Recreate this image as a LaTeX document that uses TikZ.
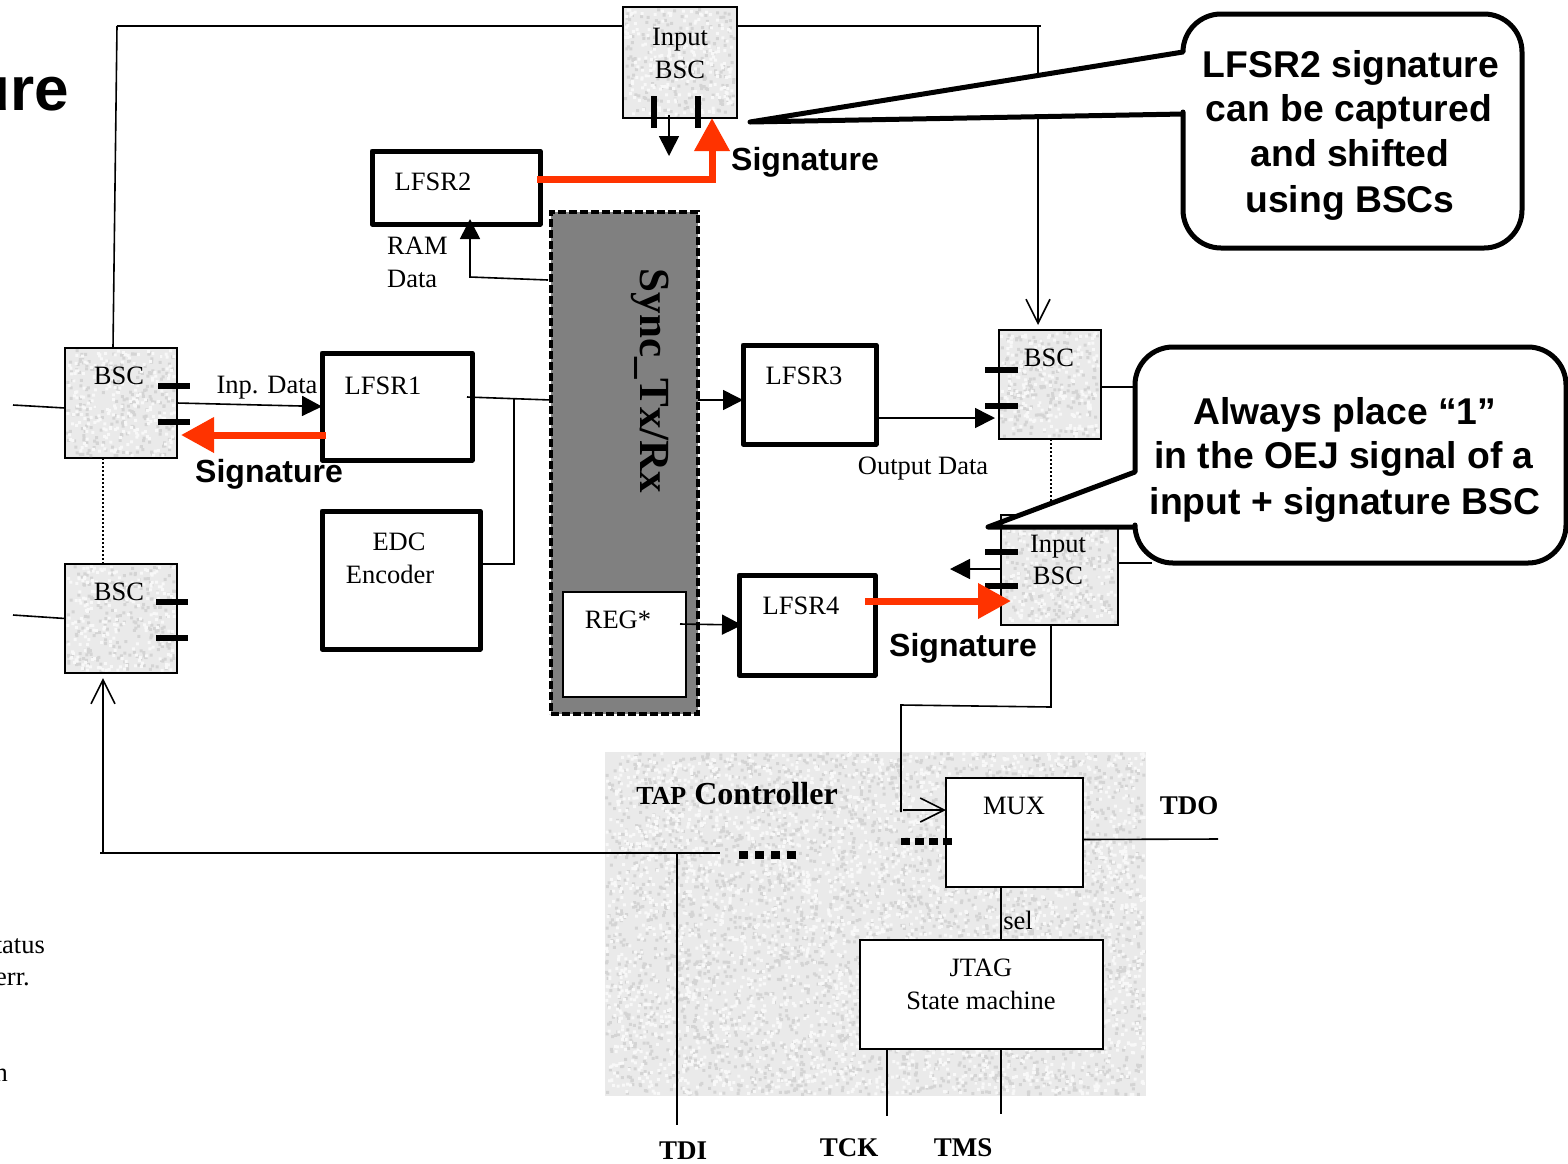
\documentclass[tikz,border=0pt]{standalone}
\usepackage{fontspec}
\setmainfont{Liberation Serif}
\setsansfont{Liberation Sans}
\usetikzlibrary{arrows.meta}
\definecolor{sigred}{HTML}{FF3300}
\definecolor{syncgray}{HTML}{808080}
\definecolor{bscgray}{HTML}{EAEAEA}
\definecolor{speckdark}{HTML}{D4D4D4}
\definecolor{specklight}{HTML}{F8F8F8}
\newcommand{\fs}[1]{\fontsize{#1}{#1}\selectfont}
% Grainy fill: left, top, width, height, grains
\newcommand{\speckle}[5]{
    \fill[speckdark] \foreach \i in {1,...,#5} {({#1+rnd*(#3-3)},{#2+rnd*(#4-3)}) rectangle ++(3,3)};
    \fill[specklight] \foreach \i in {1,...,#5} {({#1+rnd*(#3-3)},{#2+rnd*(#4-3)}) rectangle ++(3,3)};
}
\tikzset{
    box/.style={draw, inner sep=0, outer sep=0},
    bscbox/.style={box, fill=bscgray, line width=1.1pt},
    block/.style={box, fill=white, line width=5pt, line join=round},
    thinblock/.style={box, fill=white, line width=1.4pt},
    txt/.style={inner sep=0, font=\fs{26.5}},
    sigtxt/.style={inner sep=0, font=\fs{32}\sffamily\bfseries},
    bigtxt/.style={inner sep=0, align=center, font=\fs{37.3}\sffamily\bfseries},
    pin/.style={inner sep=0, font=\fs{27}\bfseries},
    wire/.style={line width=1.6pt},
    topwire/.style={line width=2.4pt},
    dotline/.style={line width=1.2pt, dash pattern=on 1.5pt off 2.5pt},
    bar/.style={line width=6pt},
    sigarrow/.style={line width=7pt, draw=sigred, -{Triangle[length=33pt,width=34pt,fill=sigred]}},
    openarrow/.style={wire, -{Straight Barb[length=24pt,width=24pt]}},
    callout/.style={draw, fill=white, line width=5pt, line join=round}
}
\begin{document}
\begin{tikzpicture}[x=1pt, y=-1pt, >={Triangle[length=20pt,width=20pt]}]
    \useasboundingbox (0,0) rectangle (1568,1163);
    \pgfmathsetseed{7}

    % Grainy blocks
    \node[box, draw=none, fill=bscgray, minimum width=541pt, minimum height=344pt] (tap) at (875.5,924) {};
    \node[bscbox, minimum width=114pt, minimum height=111pt] (inbsca) at (680,62.5) {};
    \node[bscbox, minimum width=112pt, minimum height=110pt] (bsca) at (121,403) {};
    \node[bscbox, minimum width=112pt, minimum height=109pt] (bscb) at (121,618.5) {};
    \node[bscbox, minimum width=102pt, minimum height=109pt] (bscc) at (1050,384.5) {};
    \node[bscbox, minimum width=117pt, minimum height=110pt] (inbscb) at (1059.5,570) {};
    \speckle{605}{752}{541}{344}{3500}
    \speckle{624}{8}{112}{109}{220}
    \speckle{66}{349}{110}{108}{220}
    \speckle{66}{565}{110}{107}{220}
    \speckle{1000}{331}{100}{107}{200}
    \speckle{1002}{516}{115}{108}{220}

    % Blocks
    \node[block, minimum width=168pt, minimum height=73pt] (lfsrb) at (456,187.5) {};
    \node[block, minimum width=150pt, minimum height=107pt] (lfsra) at (397,406.5) {};
    \node[block, minimum width=158pt, minimum height=138pt] (edc) at (401,580) {};
    \node[block, minimum width=133pt, minimum height=99pt] (lfsrc) at (809.5,394.5) {};
    \node[block, minimum width=136pt, minimum height=100pt] (lfsrd) at (807,625) {};
    \node[box, fill=syncgray, dash pattern=on 8pt off 3pt, line width=3.2pt, minimum width=147pt, minimum height=502pt] (sync) at (624.5,463) {};
    \node[thinblock, minimum width=123pt, minimum height=105pt] (reg) at (624.5,644.5) {};
    \node[thinblock, minimum width=137pt, minimum height=109pt] (mux) at (1014.5,832.5) {};
    \node[thinblock, minimum width=243pt, minimum height=109pt] (jtag) at (981.5,994.5) {};

    % Free ends
    \coordinate (topl) at (117,26);
    \coordinate (topr) at (1041,26);
    \coordinate (topdown) at (1038,26);
    \coordinate (stuba) at (13,405);
    \coordinate (stubb) at (13,615);
    \coordinate (ramin) at (548,280);
    \coordinate (rambend) at (470,277);
    \coordinate (busin) at (551,400);
    \coordinate (busout) at (467,397);
    \coordinate (busjoin) at (514,398);
    \coordinate (syncout) at (698,400);
    \coordinate (tdileft) at (100,853);
    \coordinate (tdiright) at (720,853);
    \coordinate (tdijoin) at (677,853);
    \coordinate (tdiend) at (677,1125);
    \coordinate (tckend) at (887,1116);
    \coordinate (tmsend) at (1001,1114);
    \coordinate (tdoend) at (1218,839);
    \coordinate (benda) at (1051,707);
    \coordinate (bendb) at (901,705);
    \coordinate (bendc) at (901,812);
    \coordinate (muxin) at (903,810);

    % Wires
    \draw[topwire] (topl) -- (topl -| inbsca.west);
    \draw[topwire] (inbsca.east |- topl) -- (topr);
    \draw[wire] (topl) -- ([xshift=-8pt]bsca.north);
    \draw[openarrow] (topdown) -- ([xshift=-12pt,yshift=5pt]bscc.north);
    \draw[wire] (stuba) -- ([yshift=-5pt]bsca.west);
    \draw[wire] (stubb) -- (bscb.west);
    \draw[wire, ->] (bsca.east) -- (lfsra.west);
    \draw[dotline] ([xshift=-18pt]bsca.south) -- ([xshift=-18pt]bscb.north);
    \draw[dotline] ([xshift=1pt]bscc.south) -- ([xshift=-8.5pt]inbscb.north);
    \draw[wire, ->] (ramin) -- (rambend) -- ([yshift=5pt]rambend |- lfsrb.south);
    \draw[wire] (busout) -- (busin);
    \draw[wire] ([yshift=16pt]edc.east) -| (busjoin);
    \draw[wire, ->] (syncout) -- (syncout -| lfsrc.west);
    \draw[wire, ->] ([xshift=-6pt,yshift=20.5pt]reg.east) -- ([xshift=3pt]lfsrd.west);
    \draw[wire, ->] ([yshift=-23.5pt]lfsrc.east) -- ([xshift=-4pt,yshift=-33.5pt]bscc.west);
    \draw[wire] ([yshift=-2.5pt]bscc.east) -- ++(32,0);
    \draw[wire] ([yshift=7pt]inbscb.east) -- ++(34,0);
    \draw[wire, ->] ([xshift=-11pt,yshift=3pt]inbsca.south) -- ++(0,41);
    \draw[wire, ->] ([yshift=1pt]inbscb.west) -- ++(-51,0);
    \draw[wire] ([xshift=-8.5pt]inbscb.south) -- (benda) -- (bendb) -- (bendc);
    \draw[openarrow] (muxin) -- (muxin -| mux.west);
    \draw[wire] (tdileft) -- (tdiright);
    \draw[openarrow] (tdijoin -| bscb.south) ++(-18,0) -- ([xshift=-18pt,yshift=-5pt]bscb.south);
    \draw[wire] (tdijoin) -- (tdiend);
    \draw[wire] ([yshift=-7pt]mux.east) -- (tdoend);
    \draw[wire] ([xshift=-13.5pt,yshift=1pt]mux.south) -- ([xshift=19.5pt]jtag.north);
    \draw[wire] ([xshift=-94.5pt]jtag.south) -- (tckend);
    \draw[wire] ([xshift=19.5pt]jtag.south) -- (tmsend);
    \draw[line width=8pt, dash pattern=on 9pt off 7pt] (739,855) -- (796,855);
    \draw[line width=7pt, dash pattern=on 9pt off 5pt] (901,841) -- (955,841);

    % Bars
    \draw[bar] (654,96) -- (654,128);
    \draw[bar] (698,96) -- (698,128);
    \draw[bar] (158,386) -- (190,386);
    \draw[bar] (158,422) -- (190,422);
    \draw[bar] (156,602) -- (188,602);
    \draw[bar] (156,638) -- (188,638);
    \draw[bar] (985,370) -- (1018,370);
    \draw[bar] (985,406) -- (1018,406);
    \draw[bar] (985,552) -- (1018,552);
    \draw[bar] (985,586) -- (1018,586);

    % Signature arrows
    \draw[sigarrow] ([xshift=-3pt,yshift=8.5pt]lfsrb.east) -| ([xshift=32pt]inbsca.south);
    \draw[sigarrow] ([xshift=4pt,yshift=-28.5pt]lfsra.west) -- ([xshift=4pt,yshift=-32pt]bsca.east);
    \draw[sigarrow] ([xshift=-10pt,yshift=24pt]lfsrd.east) -- ([xshift=10pt,yshift=-31pt]inbscb.west);

    % Callouts
    \draw[callout] (750,122) -- (1183,52) [rounded corners=38pt] -- (1183,14) -- (1522,14) -- (1522,248) -- (1183,248) -- (1183,150) [sharp corners] -- (1183,114) -- cycle;
    \draw[callout] (988,527) -- (1135,472) [rounded corners=38pt] -- (1135,347) -- (1566,347) -- (1566,563) -- (1135,563) [sharp corners] -- (1135,527) -- cycle;

    % Labels
    \node[inner sep=0, anchor=east, font=\fs{62}\sffamily\bfseries] (title) at (69,94) {ure};
    \node[txt] (inbsctxta) at (680,40) {Input};
    \node[txt] (inbsctxtb) at (680,70) {BSC};
    \node[txt] (bscatxt) at (119,376) {BSC};
    \node[txt] (bscbtxt) at (119,592) {BSC};
    \node[txt] (bscctxt) at (1049,358) {BSC};
    \node[txt] (inbscctxta) at (1058,547) {Input};
    \node[txt] (inbscctxtb) at (1058,576) {BSC};
    \node[txt] (lfsrbtxt) at (433,182) {LFSR2};
    \node[txt] (lfsratxt) at (383,386) {LFSR1};
    \node[txt] (lfsrctxt) at (804,376) {LFSR3};
    \node[txt] (lfsrdtxt) at (801,606) {LFSR4};
    \node[txt] (edctxta) at (399,542) {EDC};
    \node[txt] (edctxtb) at (390,574) {Encoder};
    \node[txt, anchor=west] (ramtxta) at (387,246) {RAM};
    \node[txt, anchor=west] (ramtxtb) at (387,279) {Data};
    \node[txt] (inptxt) at (267,388) {Inp. Data};
    \node[txt] (outtxt) at (923,469) {Output Data};
    \node[txt] (regtxt) at (618,620) {REG*};
    \node[txt] (muxtxt) at (1014,806) {MUX};
    \node[txt] (seltxt) at (1018,920) {sel};
    \node[txt] (jtagtxta) at (981,968) {JTAG};
    \node[txt] (jtagtxtb) at (981,1000) {State machine};
    \node[inner sep=0, rotate=-90, font=\fs{43}\bfseries] (synctxt) at (650,381) {Sync\_Tx/Rx};
    \node[inner sep=0, font=\fs{32}\bfseries] (taptxt) at (737,794) {{\fs{26}TAP} Controller};
    \node[pin] (tdotxt) at (1189,806) {TDO};
    \node[pin] (tditxt) at (683,1151) {TDI};
    \node[pin] (tcktxt) at (849,1148) {TCK};
    \node[pin] (tmstxt) at (963,1148) {TMS};
    \node[sigtxt] (sigtxta) at (805,162.5) {Signature};
    \node[sigtxt] (sigtxtb) at (269,474.5) {Signature};
    \node[sigtxt] (sigtxtc) at (963,648.5) {Signature};
    \node[bigtxt] (calltxta) at (1351,67.5) {LFSR2 signature};
    \node[bigtxt] (calltxtb) at (1349,111.5) {can be captured};
    \node[bigtxt] (calltxtc) at (1350,153) {and shifted};
    \node[bigtxt] (calltxtd) at (1350,202.5) {using BSCs};
    \node[bigtxt] (calltxte) at (1345,414.5) {Always place “1”};
    \node[bigtxt] (calltxtf) at (1344,458.5) {in the OEJ signal of a};
    \node[bigtxt] (calltxtg) at (1345,504.5) {input + signature BSC};
    \node[txt, anchor=east] (cuttxta) at (45,946) {tatus};
    \node[txt, anchor=east] (cuttxtb) at (30,979) {err.};
    \node[txt, anchor=east] (cuttxtc) at (8,1075) {n};
\end{tikzpicture}
\end{document}
